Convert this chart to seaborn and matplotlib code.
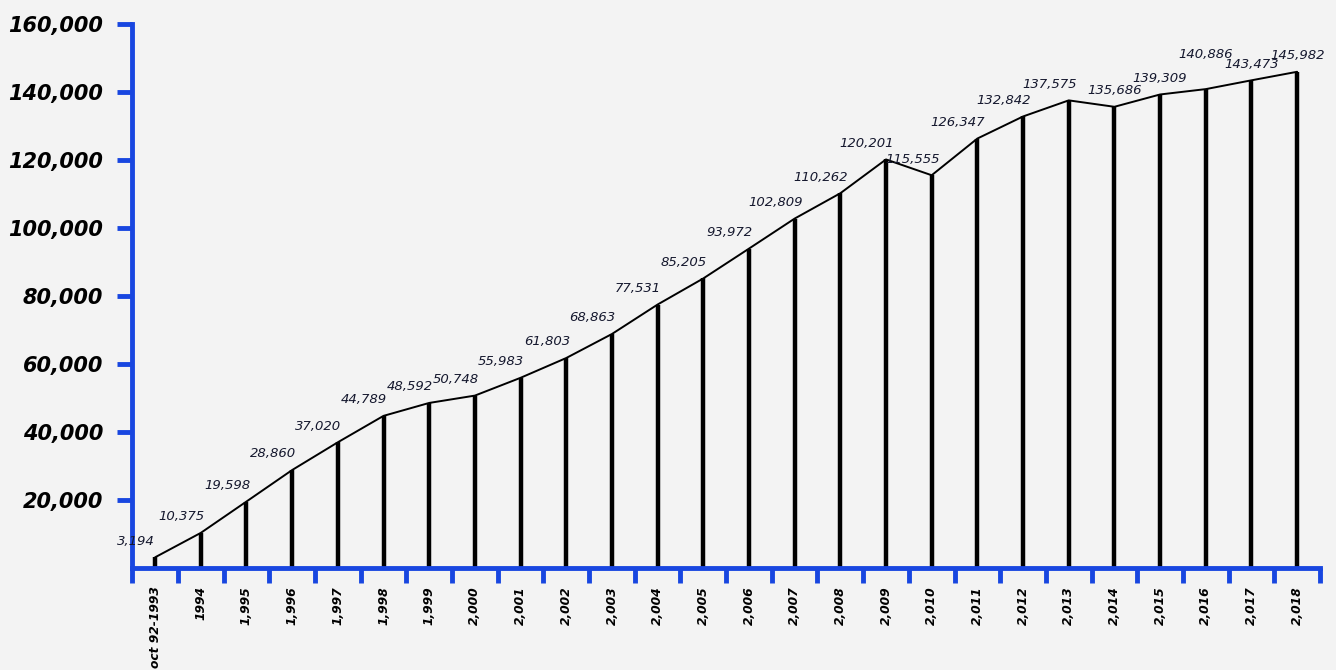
import numpy as np
import pandas as pd
import matplotlib
matplotlib.use("Agg")
import matplotlib.pyplot as plt
import seaborn as sns

# Data

years = ["oct 92-1993", "1994", "1,995", "1,996", "1,997", "1,998", "1,999",
         "2,000", "2,001", "2,002", "2,003", "2,004", "2,005", "2,006",
         "2,007", "2,008", "2,009", "2,010", "2,011", "2,012", "2,013",
         "2,014", "2,015", "2,016", "2,017", "2,018"]

totals = [3194, 10375, 19598, 28860, 37020, 44789, 48592, 50748, 55983,
          61803, 68863, 77531, 85205, 93972, 102809, 110262, 120201, 115555,
          126347, 132842, 137575, 135686, 139309, 140886, 143473, 145982]

y_ticks = [20000, 40000, 60000, 80000, 100000, 120000, 140000, 160000]

df = pd.DataFrame({"year": years, "total": totals})
df["pos"] = np.arange(len(df))

blue = "#1846e0"
bg = "#f3f3f3"

sns.set_style("white")
plt.rcParams["font.family"] = ["DejaVu Sans"]

fig = plt.figure(figsize=(13.36, 6.7), dpi=100, facecolor=bg)
ax = fig.add_axes([0.099, 0.152, 0.889, 0.812])
ax.set_facecolor(bg)

# Stems
ax.vlines(df["pos"], 0, df["total"], color="black", linewidth=3.2)

# Line on top
sns.lineplot(data=df, x="pos", y="total", color="black", linewidth=1.4, ax=ax)

# Value labels (last few sit right above their point, 2016 one raised a bit)
for i, v in enumerate(totals):
    dx = -14 if i < len(totals) - 5 else 0
    dy = 20 if years[i] == "2,016" else 7
    ax.annotate(f"{v:,}", (i, v), xytext=(dx, dy), textcoords="offset points",
                ha="center", va="bottom", fontsize=9.5, fontstyle="italic",
                color="#15182e")

ax.set_xlim(-0.42, len(years) - 0.5)
ax.set_ylim(0, 160000)

ax.set_xticks(df["pos"])
ax.set_xticklabels(years, rotation=90, fontsize=8.8, fontweight="bold",
                   fontstyle="italic", color="black")
ax.set_xticks(np.arange(-0.5, len(years), 1), minor=True)
ax.tick_params(axis="x", which="major", bottom=True, length=0, pad=13)
ax.tick_params(axis="x", which="minor", bottom=True, length=11, width=3.5,
               color=blue, direction="out")

ax.set_yticks(y_ticks)
ax.set_yticklabels([f"{t:,}" for t in y_ticks], fontsize=15,
                   fontweight="bold", fontstyle="italic", color="black")
ax.tick_params(axis="y", left=True, length=11, width=3.5, color=blue,
               direction="out", pad=10)

ax.set_xlabel("")
ax.set_ylabel("")

for side in ["top", "right"]:
    ax.spines[side].set_visible(False)
for side in ["left", "bottom"]:
    ax.spines[side].set_color(blue)
    ax.spines[side].set_linewidth(3.5)

fig.savefig("out.png", dpi=100, facecolor=bg)
